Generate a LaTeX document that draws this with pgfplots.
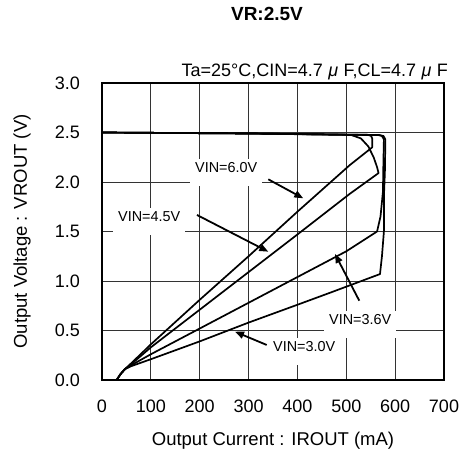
\documentclass[border=0pt]{standalone}
\usepackage{pgfplots}
\pgfplotsset{compat=1.18}
\usepackage{fontspec}
\setmainfont{Liberation Sans}
\usetikzlibrary{arrows.meta}
\begin{document}
\begin{tikzpicture}
\begin{axis}[
  scale only axis, width=342pt, height=297pt,
  xmin=0, xmax=700, ymin=0, ymax=3,
  xtick={0,100,200,300,400,500,600,700},
  ytick={0,0.5,1,1.5,2,2.5,3},
  grid=major, grid style={black!80, line width=0.9pt},
  axis line style={line width=1.6pt},
  tick style={draw=none},
  /pgf/number format/assume math mode=true,
  ticklabel style={font=\fontsize{18}{20}\selectfont},
  yticklabel style={/pgf/number format/fixed, /pgf/number format/fixed zerofill, /pgf/number format/precision=1, inner sep=0pt, anchor=east, xshift=-22pt},
  xticklabel style={inner sep=0pt, anchor=north, yshift=-20pt},
  every axis x label/.style={at={(axis description cs:0.5,0)}, anchor=base, yshift=-65pt, font=\fontsize{18.5}{20}\selectfont},
  every axis y label/.style={at={([xshift=-75pt]axis description cs:0,0.5)}, rotate=90, anchor=base, font=\fontsize{18.5}{20}\selectfont},
  xlabel={Output Current : IROUT (mA)},
  ylabel={Output Voltage : VROUT (V)},
  title={VR:2.5V},
  title style={at={(axis description cs:0.5,1)}, anchor=base, yshift=56pt, xshift=-6pt, font=\fontsize{19}{21}\selectfont\bfseries},
  clip=false,
]
% labels with white boxes
\node[fill=white, anchor=base west, inner xsep=5pt, inner ysep=2pt, text height=12pt, text depth=11pt, font=\fontsize{14.4}{16}\selectfont] at (axis cs:180.1,2.091) {VIN=6.0V};
\node[fill=white, anchor=base west, inner xsep=5pt, inner ysep=2pt, text height=12pt, text depth=11pt, font=\fontsize{14.4}{16}\selectfont] at (axis cs:22.5,1.596) {VIN=4.5V};
\node[fill=white, anchor=base west, inner xsep=5pt, inner ysep=2pt, text height=12pt, text depth=11pt, font=\fontsize{14.4}{16}\selectfont] at (axis cs:454.4,0.556) {VIN=3.6V};
\node[fill=white, anchor=base west, inner xsep=5pt, inner ysep=2pt, text height=12pt, text depth=11pt, font=\fontsize{14.4}{16}\selectfont] at (axis cs:339.8,0.283) {VIN=3.0V};

% VIN=6.0V
\addplot[black, line width=1.7pt, line join=round] coordinates {
(0,2.50) (300,2.49) (545,2.475) (551,2.465) (553,2.44) (553,2.35) (530,2.26) (507,2.17) (400,1.70) (300,1.25) (200,0.81) (100,0.36) (60,0.17) (47,0.11) (38,0.06) (30,0.0)};
% VIN=4.5V
\addplot[black, line width=1.7pt, line join=round] coordinates {
(0,2.50) (300,2.49) (510,2.475) (530,2.44) (545,2.36) (556,2.25) (563,2.15) (566,2.09) (507,1.88) (400,1.47) (300,1.09) (200,0.71) (100,0.33) (60,0.16) (47,0.11) (38,0.06) (30,0.0)};
% VIN=3.6V
\addplot[black, line width=1.7pt, line join=round] coordinates {
(0,2.50) (300,2.49) (565,2.475) (573,2.465) (577,2.43) (576,2.2) (575,1.9) (570,1.65) (563,1.50) (500,1.30) (400,1.04) (300,0.78) (200,0.52) (100,0.26) (60,0.15) (47,0.11) (38,0.06) (30,0.0)};
% VIN=3.0V
\addplot[black, line width=1.7pt, line join=round] coordinates {
(0,2.50) (300,2.49) (567,2.475) (576,2.465) (580,2.43) (579,2.1) (577,1.85) (577,1.5) (573,1.25) (569,1.07) (466,0.88) (400,0.76) (300,0.58) (200,0.39) (100,0.21) (60,0.14) (47,0.11) (38,0.06) (30,0.0)};

% arrows
\draw[line width=1.8pt, -{Triangle[length=9pt,width=7pt]}] (axis cs:340.4,2.027) -- (axis cs:412,1.835);
\draw[line width=1.8pt, -{Triangle[length=9pt,width=7pt]}] (axis cs:194.4,1.667) -- (axis cs:340.4,1.296);
\draw[line width=1.8pt, -{Triangle[length=9pt,width=7pt]}] (axis cs:526.6,0.801) -- (axis cs:476.9,1.273);
\draw[line width=1.8pt, -{Triangle[length=9pt,width=7pt]}] (axis cs:337.1,0.354) -- (axis cs:272.2,0.488);

\node[anchor=base east, inner sep=0pt, font=\fontsize{18}{20}\selectfont] at (rel axis cs:1,1) [xshift=4pt, yshift=6pt] {Ta=25°C,CIN=4.7\hspace{0.3em}\textit{μ}\hspace{0.3em}F,CL=4.7\hspace{0.3em}\textit{μ}\hspace{0.3em}F};
\end{axis}
\path[use as bounding box] (-102pt,-75pt) rectangle (361pt,380pt);
\end{tikzpicture}
\end{document}
